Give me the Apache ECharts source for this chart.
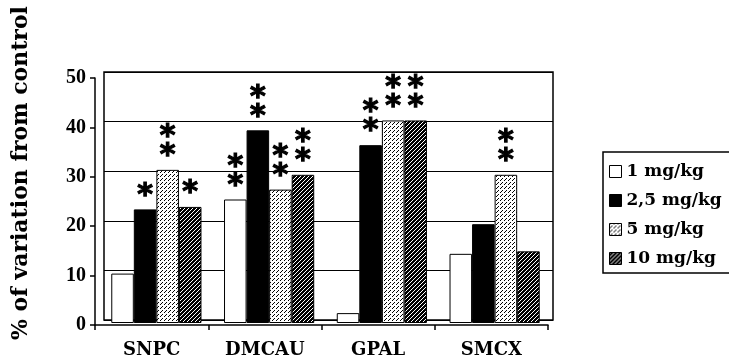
<!DOCTYPE html>
<html><head><meta charset="utf-8">
<script src="https://cdn.jsdelivr.net/npm/echarts@6/dist/echarts.min.js"></script>
<style>html,body{margin:0;padding:0;background:#fff}#c{width:729px;height:363px}</style>
</head><body><div id="c"></div>
<script>
const categories = ['SNPC', 'DMCAU', 'GPAL', 'SMCX'];
const seriesNames = ['1 mg/kg', '2,5 mg/kg', '5 mg/kg', '10 mg/kg'];
const dose1 = [10, 25, 2, 14];
const dose25 = [23, 39, 36, 20];
const dose5 = [31, 27, 41, 30];
const dose10 = [23.5, 30, 41, 14.5];
// number of asterisks above each bar
const stars1 = [0, 2, 0, 0];
const stars25 = [1, 2, 2, 0];
const stars5 = [2, 2, 2, 2];
const stars10 = [1, 2, 2, 0];
const yTicks = [0, 10, 20, 30, 40, 50];
const yTitle = '% of variation from control';

function pattern(bg, fg, pts) {
  const c = document.createElement('canvas');
  c.width = 4; c.height = 4;
  const g = c.getContext('2d');
  g.fillStyle = bg; g.fillRect(0, 0, 4, 4);
  g.fillStyle = fg;
  pts.forEach(p => g.fillRect(p[0], p[1], 1, 1));
  return { image: c, repeat: 'repeat' };
}
const speckle = pattern('#ffffff', '#000000', [[0,0],[2,2],[1,3]]);
const hatch = pattern('#000000', '#ffffff', [[0,0],[2,2],[1,3],[3,1]]);

const FONT = 'DejaVu Serif';
const fills = ['#ffffff', '#000000', speckle, hatch];
const values = [dose1, dose25, dose5, dose10];
const stars = [stars1, stars25, stars5, stars10];

const axisBlack = { color: '#000', width: 1.5 };
const chart = echarts.init(document.getElementById('c'), null, { renderer: 'canvas' });
chart.setOption({
  animation: false,
  backgroundColor: '#ffffff',
  grid: [
    // front (axes)
    { left: 95, right: 181, top: 78, bottom: 38, outerBoundsMode: 'none', containLabel: false },
    // back wall (gridlines)
    { left: 104, right: 176, top: 72, bottom: 43, outerBoundsMode: 'none', containLabel: false,
      show: true, borderColor: '#000', borderWidth: 1.5 },
    // bars (mid depth)
    { left: 100, right: 178, top: 76, bottom: 40, outerBoundsMode: 'none', containLabel: false }
  ],
  graphic: [{
    type: 'text', x: 21, y: 173, rotation: Math.PI / 2,
    style: { text: yTitle, fontFamily: FONT, fontWeight: 'bold', fontSize: 22, fill: '#000',
      align: 'center', verticalAlign: 'middle' }
  }],
  legend: {
    orient: 'vertical', left: 603, top: 152,
    data: seriesNames,
    icon: 'rect', itemWidth: 12, itemHeight: 12, itemGap: 12,
    borderColor: '#000', borderWidth: 1.5, padding: [11, 30, 6, 6],
    textStyle: { fontFamily: FONT, fontWeight: 'bold', fontSize: 17, color: '#000' },
    itemStyle: { borderColor: '#000', borderWidth: 1 }
  },
  xAxis: [
    { gridIndex: 0, type: 'category', data: categories,
      axisLine: { lineStyle: axisBlack },
      axisTick: { show: true, length: 5, lineStyle: axisBlack },
      axisLabel: { fontFamily: FONT, fontWeight: 'bold', fontSize: 18, color: '#000', margin: 16 } },
    { gridIndex: 1, type: 'category', data: categories, show: false },
    { gridIndex: 2, type: 'category', data: categories, show: false }
  ],
  yAxis: [
    { gridIndex: 0, type: 'value', min: 0, max: 50, interval: 10,
      axisLine: { show: true, lineStyle: axisBlack },
      axisTick: { show: true, length: 5, lineStyle: axisBlack },
      splitLine: { show: false },
      axisLabel: { fontFamily: 'Liberation Serif', fontWeight: 'bold', fontSize: 20, color: '#000', margin: 9,
        formatter: v => yTicks.includes(v) ? String(v) : '' } },
    { gridIndex: 1, type: 'value', min: 0, max: 50, interval: 10,
      axisLine: { show: false }, axisTick: { show: false }, axisLabel: { show: false },
      splitLine: { lineStyle: { color: '#000', width: 1.2 } } },
    { gridIndex: 2, type: 'value', min: 0, max: 50, interval: 10, show: false, splitLine: { show: false } }
  ],
  series: seriesNames.map((name, i) => ({
    name, type: 'bar', xAxisIndex: 2, yAxisIndex: 2, barGap: '0%', barCategoryGap: '20%',
    data: values[i].map((v, j) => ({ value: v, stars: stars[i][j] })),
    itemStyle: { color: fills[i], borderColor: '#000', borderWidth: 1 },
    label: {
      show: true, position: 'top', distance: 4,
      formatter: p => p.data.stars ? Array(p.data.stars).fill('*').join('\n') : '',
      fontFamily: 'DejaVu Sans', fontWeight: 'bold', fontSize: 30, lineHeight: 19, color: '#000',
      textBorderColor: '#000', textBorderWidth: 1.2
    }
  }))
});
</script></body></html>
